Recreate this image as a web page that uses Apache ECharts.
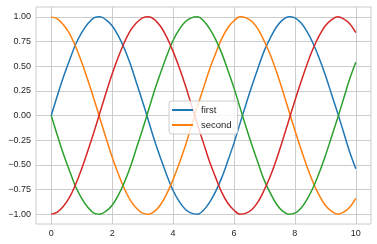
<!DOCTYPE html>
<html><head><meta charset="utf-8">
<script src="https://cdn.jsdelivr.net/npm/echarts@6/dist/echarts.min.js"></script>
<style>html,body{margin:0;padding:0;background:#fff}#c{width:377px;height:244px}</style>
</head><body><div id="c"></div>
<script>
const xValues = [0,0.2,0.4,0.6,0.8,1.0,1.2,1.4,1.6,1.8,2.0,2.2,2.4,2.6,2.8,3.0,3.2,3.4,3.6,3.8,4.0,4.2,4.4,4.6,4.8,5.0,5.2,5.4,5.6,5.8,6.0,6.2,6.4,6.6,6.8,7.0,7.2,7.4,7.6,7.8,8.0,8.2,8.4,8.6,8.8,9.0,9.2,9.4,9.6,9.8,10.0];
const firstValues = [0.00,0.20,0.39,0.56,0.72,0.84,0.93,0.99,1.00,0.97,0.91,0.81,0.68,0.52,0.33,0.14,-0.06,-0.26,-0.44,-0.61,-0.76,-0.87,-0.95,-0.99,-1.00,-0.96,-0.88,-0.77,-0.63,-0.46,-0.28,-0.08,0.12,0.31,0.49,0.66,0.79,0.90,0.97,1.00,0.99,0.94,0.85,0.73,0.58,0.41,0.22,0.03,-0.17,-0.37,-0.54];
const secondValues = [1.00,0.98,0.92,0.83,0.70,0.54,0.36,0.17,-0.03,-0.23,-0.42,-0.59,-0.74,-0.86,-0.94,-0.99,-1.00,-0.97,-0.90,-0.79,-0.65,-0.49,-0.31,-0.11,0.09,0.28,0.47,0.63,0.78,0.89,0.96,1.00,0.99,0.95,0.87,0.75,0.61,0.44,0.25,0.05,-0.15,-0.34,-0.52,-0.68,-0.81,-0.91,-0.97,-1.00,-0.98,-0.93,-0.84];
const thirdValues = [0.00,-0.20,-0.39,-0.56,-0.72,-0.84,-0.93,-0.99,-1.00,-0.97,-0.91,-0.81,-0.68,-0.52,-0.33,-0.14,0.06,0.26,0.44,0.61,0.76,0.87,0.95,0.99,1.00,0.96,0.88,0.77,0.63,0.46,0.28,0.08,-0.12,-0.31,-0.49,-0.66,-0.79,-0.90,-0.97,-1.00,-0.99,-0.94,-0.85,-0.73,-0.58,-0.41,-0.22,-0.03,0.17,0.37,0.54];
const fourthValues = [-1.00,-0.98,-0.92,-0.83,-0.70,-0.54,-0.36,-0.17,0.03,0.23,0.42,0.59,0.74,0.86,0.94,0.99,1.00,0.97,0.90,0.79,0.65,0.49,0.31,0.11,-0.09,-0.28,-0.47,-0.63,-0.78,-0.89,-0.96,-1.00,-0.99,-0.95,-0.87,-0.75,-0.61,-0.44,-0.25,-0.05,0.15,0.34,0.52,0.68,0.81,0.91,0.97,1.00,0.98,0.93,0.84];
const xTicks = [0,2,4,6,8,10];
const yTicks = [-1.00,-0.75,-0.50,-0.25,0.00,0.25,0.50,0.75,1.00];
const seriesNames = ['first','second','third','fourth'];
const legendNames = ['first','second'];
const colors = ['#1f77b4','#ff7f0e','#2ca02c','#d62728'];
const allValues = [firstValues, secondValues, thirdValues, fourthValues];

const chart = echarts.init(document.getElementById('c'), null, {renderer:'canvas'});
const font = 'Liberation Sans, Arial, sans-serif';
chart.setOption({
  animation:false,
  backgroundColor:'#fff',
  grid:{left:36,right:6,top:7,bottom:20,show:true,borderColor:'#cccccc',borderWidth:1,containLabel:false},
  xAxis:{type:'value',min:-0.5,max:10.5,
    axisLine:{show:false},axisTick:{show:false,customValues:xTicks},
    axisLabel:{color:'#262626',fontFamily:font,fontSize:9,margin:5,customValues:xTicks},
    splitLine:{show:true,lineStyle:{color:'#cccccc',width:1}}},
  yAxis:{type:'value',min:-1.1,max:1.1,
    axisLine:{show:false},axisTick:{show:false,customValues:yTicks},
    axisLabel:{color:'#262626',fontFamily:font,fontSize:9,margin:5,customValues:yTicks,
      formatter:v=>v.toFixed(2).replace('-','\u2212')},
    splitLine:{show:true,lineStyle:{color:'#cccccc',width:1}}},
  legend:{data:legendNames.map(n=>({name:n,icon:'rect'})),orient:'vertical',left:169,top:101,
    itemWidth:21,itemHeight:2,itemGap:5,padding:[4,6,4,3],
    backgroundColor:'rgba(255,255,255,0.8)',borderColor:'#cccccc',borderWidth:1,borderRadius:3,
    textStyle:{color:'#262626',fontFamily:font,fontSize:9.5,padding:[0,0,0,3]}},
  series:seriesNames.map((n,i)=>({name:n,type:'line',showSymbol:false,symbol:'none',smooth:0.35,
    data:xValues.map((x,j)=>[x,allValues[i][j]]),
    lineStyle:{color:colors[i],width:1.5},itemStyle:{color:colors[i]}}))
});
</script></body></html>
